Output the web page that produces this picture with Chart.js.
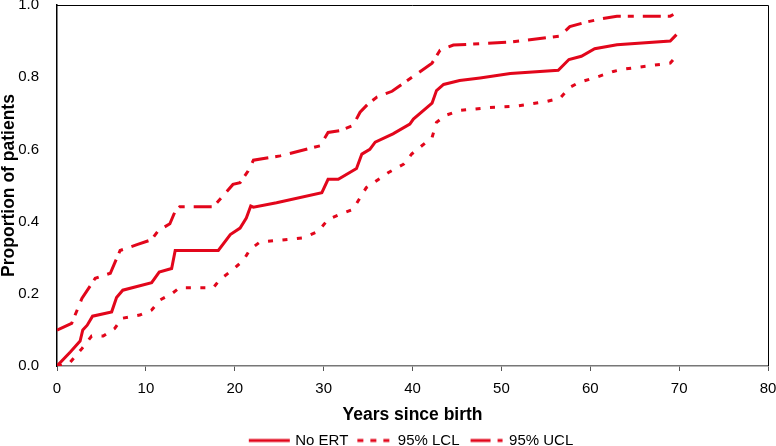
<!DOCTYPE html>
<html>
<head>
<meta charset="utf-8">
<title>Proportion of patients</title>
<script src="https://cdn.jsdelivr.net/npm/chart.js@4.4.1/dist/chart.umd.min.js"></script>
<style>
  html, body { margin: 0; padding: 0; background: #ffffff; }
  #wrap { width: 776px; height: 446px; position: relative; }
</style>
</head>
<body>
<div id="wrap"><canvas id="myChart"></canvas></div>
<script>
// DATA
const seriesNames = ['No ERT', '95% LCL', '95% UCL'];
const xTicks = [0, 10, 20, 30, 40, 50, 60, 70, 80];
const yTicks = [0.0, 0.2, 0.4, 0.6, 0.8, 1.0];

const noErtYears = [0, 1.5, 2.6, 2.9, 3.4, 4.0, 6.15, 6.7, 7.4, 10.65, 11.5, 12.9, 13.3, 18.15, 19.5, 20.6, 21.3, 21.8, 22.1, 24.7, 29.8, 30.5, 31.65, 33.7, 34.3, 35.2, 35.8, 37.8, 39.7, 40.1, 42.2, 42.7, 43.5, 45.3, 47.6, 51, 56.4, 57.6, 59, 60.5, 63, 69, 69.7];
const noErtValues = [0.0, 0.039, 0.069, 0.10, 0.113, 0.138, 0.15, 0.19, 0.21, 0.231, 0.26, 0.27, 0.32, 0.32, 0.364, 0.382, 0.41, 0.443, 0.44, 0.452, 0.48, 0.517, 0.517, 0.547, 0.587, 0.60, 0.62, 0.643, 0.67, 0.684, 0.728, 0.763, 0.78, 0.791, 0.798, 0.81, 0.819, 0.849, 0.858, 0.879, 0.89, 0.90, 0.918];

const lclYears = [0, 1.3, 2.8, 3.9, 5.2, 6.5, 7.3, 9.3, 10.65, 11.6, 12.9, 13.8, 17.6, 18.3, 19.8, 21.0, 21.7, 22.8, 27.7, 29.4, 30.5, 31.8, 33.3, 34.1, 34.8, 37.3, 39.0, 39.9, 42.2, 42.7, 43.7, 45.3, 48.7, 51.7, 55.1, 56.6, 57.7, 58.8, 60.7, 62.6, 63.7, 69, 69.7];
const lclValues = [0.0, 0.005, 0.048, 0.083, 0.083, 0.104, 0.132, 0.141, 0.155, 0.183, 0.20, 0.217, 0.217, 0.239, 0.267, 0.294, 0.322, 0.343, 0.355, 0.373, 0.406, 0.42, 0.434, 0.466, 0.494, 0.536, 0.559, 0.587, 0.633, 0.675, 0.694, 0.708, 0.716, 0.72, 0.733, 0.742, 0.772, 0.786, 0.80, 0.816, 0.822, 0.839, 0.858];

const uclYears = [0, 1.65, 2.8, 4.3, 6.0, 7.1, 9.0, 10.65, 11.4, 12.7, 13.3, 13.8, 17.6, 18.5, 19.8, 20.6, 21.5, 22.1, 25.1, 29.6, 30.5, 31.8, 33.3, 34.1, 35.0, 36.0, 37.7, 39.9, 42.2, 43.1, 44.6, 47.6, 51.3, 56.6, 57.7, 59.6, 61.1, 63, 69, 69.7];
const uclValues = [0.099, 0.118, 0.187, 0.243, 0.257, 0.32, 0.336, 0.35, 0.375, 0.394, 0.429, 0.441, 0.441, 0.466, 0.503, 0.508, 0.54, 0.57, 0.582, 0.61, 0.647, 0.652, 0.666, 0.703, 0.726, 0.745, 0.761, 0.799, 0.839, 0.875, 0.889, 0.893, 0.898, 0.914, 0.94, 0.953, 0.961, 0.969, 0.969, 0.978];

// STYLE
const red = '#e2061b';
const fontFamily = '"Liberation Sans", Arial, Helvetica, sans-serif';
const dashes = [[], [5, 9.5], [18, 7, 6, 9]];
const BOX_W = 36;

function toPoints(xs, ys) {
  return xs.map((x, i) => ({ x: x, y: ys[i] }));
}

// little line samples for the legend (canvas is centred on the legend box)
function legendSample(dash, from, to) {
  let c = document.createElement('canvas');
  c.width = 2 * BOX_W + 16;
  c.height = 6;
  let shift = c.width / 2 - BOX_W / 2;
  let g = c.getContext('2d');
  g.strokeStyle = red;
  g.lineWidth = 3;
  g.setLineDash(dash);
  g.beginPath();
  g.moveTo(shift + from, 3);
  g.lineTo(shift + to, 3);
  g.stroke();
  return c;
}
const samples = [
  legendSample([], -3, 38),
  legendSample([6, 7], 3, 35),
  legendSample([20, 7, 5, 100], 5, 37)
];

const allYears = [noErtYears, lclYears, uclYears];
const allValues = [noErtValues, lclValues, uclValues];

const data = {
  datasets: seriesNames.map((name, i) => ({
    label: name,
    data: toPoints(allYears[i], allValues[i]),
    borderColor: red,
    backgroundColor: red,
    borderWidth: 3,
    borderDash: dashes[i],
    borderCapStyle: 'butt',
    pointRadius: 0,
    tension: 0,
    fill: false
  }))
};

// frame on top and right
const framePlugin = {
  id: 'frame',
  afterDatasetsDraw(chart) {
    const a = chart.chartArea;
    const ctx = chart.ctx;
    ctx.save();
    ctx.strokeStyle = '#000000';
    ctx.lineWidth = 1;
    ctx.beginPath();
    ctx.moveTo(a.left, a.top + 0.5);
    ctx.lineTo(a.right + 0.5, a.top + 0.5);
    ctx.lineTo(a.right + 0.5, a.bottom);
    ctx.stroke();
    ctx.restore();
  }
};

const config = {
  type: 'line',
  data: data,
  plugins: [framePlugin],
  options: {
    responsive: true,
    maintainAspectRatio: false,
    animation: false,
    layout: { padding: { left: 0, right: 0, top: 0, bottom: -12 } },
    plugins: {
      tooltip: { enabled: false },
      legend: {
        position: 'bottom',
        fullSize: false,
        labels: {
          usePointStyle: true,
          pointStyleWidth: BOX_W,
          boxHeight: 6,
          padding: 6,
          color: '#000000',
          font: { family: fontFamily, size: 15 },
          generateLabels(chart) {
            const items = Chart.defaults.plugins.legend.labels.generateLabels(chart);
            items.forEach((it, i) => { it.pointStyle = samples[i]; });
            return items;
          }
        }
      }
    },
    scales: {
      x: {
        type: 'linear',
        min: xTicks[0],
        max: xTicks[xTicks.length - 1],
        afterBuildTicks(axis) { axis.ticks = xTicks.map(v => ({ value: v })); },
        afterFit(axis) {
          axis.height = 61;
          axis.paddingRight = 8;
        },
        grid: { display: true, drawOnChartArea: false, tickLength: 5, color: '#555555' },
        border: { display: true, color: '#777777', width: 1.5 },
        ticks: { color: '#000000', font: { family: fontFamily, size: 15 }, padding: 9 },
        title: {
          display: true,
          text: 'Years since birth',
          color: '#000000',
          font: { family: fontFamily, size: 17.5, weight: 'bold' },
          padding: { top: 7, bottom: 1.5 }
        }
      },
      y: {
        min: yTicks[0],
        max: yTicks[yTicks.length - 1],
        afterBuildTicks(axis) { axis.ticks = yTicks.map(v => ({ value: v })); },
        afterFit(axis) {
          axis.width = 57;
          axis.paddingTop = 5;
        },
        grid: { display: false },
        border: { display: true, color: '#000000', width: 1.5 },
        ticks: {
          color: '#000000',
          font: { family: fontFamily, size: 15 },
          padding: 10,
          callback: v => v.toFixed(1)
        },
        title: {
          display: true,
          text: 'Proportion of patients',
          color: '#000000',
          font: { family: fontFamily, size: 17.5, weight: 'bold', lineHeight: 1 },
          padding: { top: 0, bottom: 0 }
        }
      }
    }
  }
};

const myChart = new Chart(document.getElementById('myChart'), config);
</script>
</body>
</html>
